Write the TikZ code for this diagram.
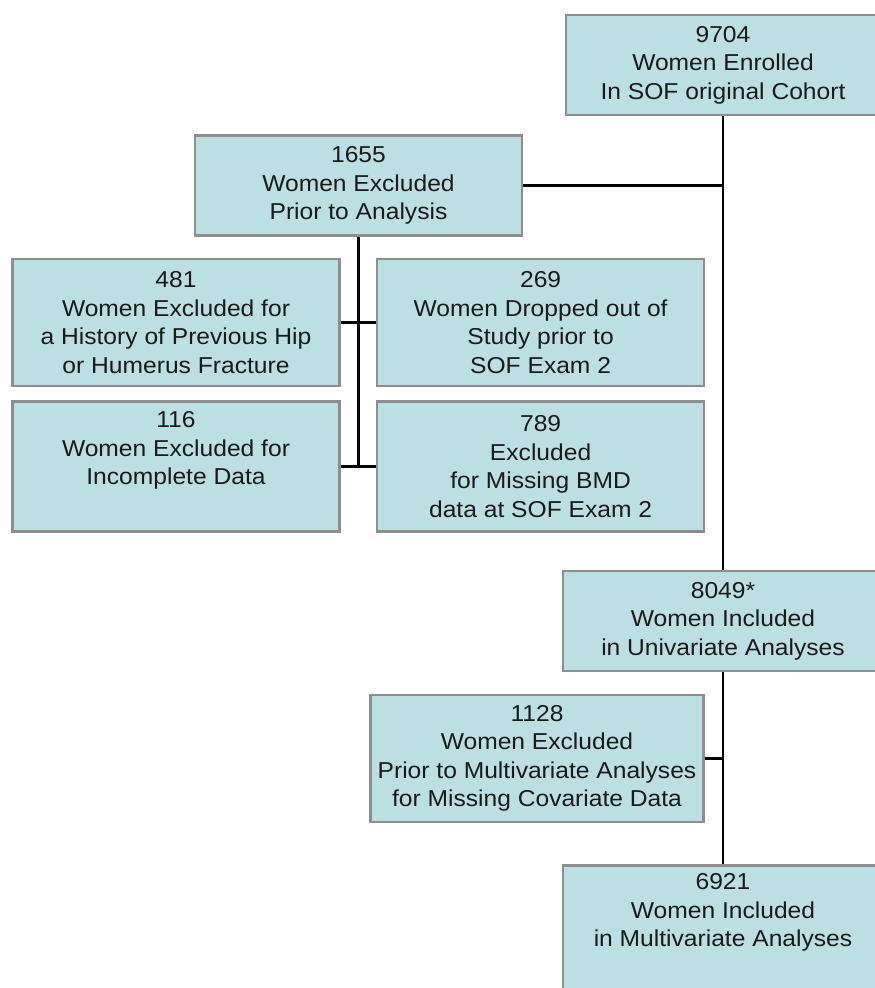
\documentclass[tikz,border=0pt]{standalone}
\usepackage{fontspec}
\setmainfont{Liberation Sans}[FakeStretch=1.07]
\usetikzlibrary{positioning}
\definecolor{cBox}{HTML}{BCDFE3}
\definecolor{cEdge}{HTML}{8E8E8E}
\definecolor{cInk}{HTML}{1A1A1A}

\begin{document}
\begin{tikzpicture}[
  x=1pt, y=-1pt,
  font=\fontsize{23}{28.5}\selectfont,
  b/.style={draw=cEdge, fill=cBox, line width=2.6pt, align=center,
            text=cInk, inner sep=4pt, minimum width=327pt, minimum height=100pt},
  b4/.style={b, minimum height=127pt},
  fl/.style={draw=black, line width=2.8pt},
  node distance=13pt and 35pt]
\useasboundingbox (0,0) rectangle (875,988);
\clip (0,0) rectangle (875,988);

% ---- main column ----
\node[b, minimum width=314pt] (enrol) at (723,65) {9704\\Women Enrolled\\In SOF original Cohort};
\node[b, minimum width=320pt] (incl) at (723,621) {8049*\\Women Included\\in Univariate Analyses};
\node[b4, minimum width=320pt, anchor=north] (multi) at (723,864) {6921\\Women Included\\in Multivariate Analyses\\ \strut};

% ---- exclusions ----
\node[b] (excl) at (358.5,185.5) {1655\\Women Excluded\\Prior to Analysis};
\node[b4] (hist) at (176,322.5) {481\\Women Excluded for\\a History of Previous Hip\\or Humerus Fracture};
\node[b4, right=of hist] (drop) {269\\Women Dropped out of\\Study prior to\\SOF Exam 2};
\node[b4, below=of hist, minimum height=130pt] (incomp) {116\\Women Excluded for\\Incomplete Data\\ \strut};
\node[b4, right=of incomp, minimum height=130pt] (bmd) {789\\Excluded\\for Missing BMD\\data at SOF Exam 2};
\node[b4, minimum width=333pt] (multx) at (537,758.5) {1128\\Women Excluded\\Prior to Multivariate Analyses\\for Missing Covariate Data};

% ---- connectors ----
\draw[fl] (enrol.south) -- (incl.north);
\draw[fl] (incl.south) -- (multi.north);
\draw[fl] (excl.east) -- (excl.east -| enrol.south);
\draw[fl] (excl.south) -- (excl.south |- incomp.east);
\draw[fl] (hist.east) -- (drop.west);
\draw[fl] (incomp.east) -- (bmd.west);
\draw[fl] (multx.east) -- (multx.east -| incl.south);
\end{tikzpicture}
\end{document}
